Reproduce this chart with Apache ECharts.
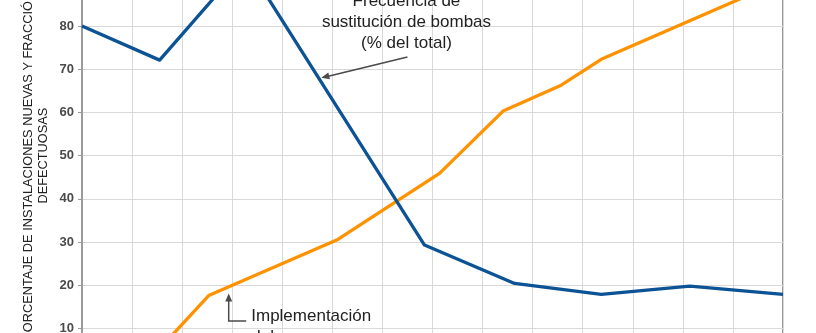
<!DOCTYPE html>
<html>
<head>
<meta charset="utf-8">
<script src="https://cdn.jsdelivr.net/npm/echarts@6/dist/echarts.min.js"></script>
<style>
  html, body { margin: 0; padding: 0; background: #ffffff; }
  #chart { width: 816px; height: 333px; }
</style>
</head>
<body>
<div id="chart"></div>
<script>
// Horizontal position of each observation (one unit = one grid column)
const blueX = [0, 1.55, 3.26, 6.84, 8.64, 10.37, 12.14, 14];
// Pump replacement frequency (% of total)
const blueValues = [80, 72.1, 94.8, 29.3, 20.4, 17.9, 19.8, 17.9];

const orangeX = [1.55, 2.53, 5.11, 7.14, 8.41, 9.57, 10.37, 14];
// Share of new installations under the programme
const orangeValues = [5.3, 17.6, 30.6, 45.9, 60.3, 66.3, 72.3, 90.6];

const yTicks = [0, 10, 20, 30, 40, 50, 60, 70, 80, 90, 100];

const yAxisName = 'PORCENTAJE DE INSTALACIONES NUEVAS Y FRACCIÓN DE\nDEFECTUOSAS';
const noteReplacement = 'Frecuencia de\nsustitución de bombas\n(% del total)';
const noteProgramme = 'Implementación\ndel programa';

const FONT = 'Arial, "Liberation Sans", Helvetica, sans-serif';
const TEXT = '#222222';
const ARROW = '#4a4a4a';

const pairs = (xs, ys) => xs.map((x, i) => [x, ys[i]]);

const chart = echarts.init(document.getElementById('chart'), null, { renderer: 'canvas' });

const option = {
  animation: false,
  backgroundColor: '#ffffff',
  grid: {
    left: 82, right: 33, top: -60.4, bottom: -38.6,
    outerBoundsMode: 'none', containLabel: false,
    show: true, borderColor: '#9a9a9a', borderWidth: 2, backgroundColor: 'transparent'
  },
  xAxis: {
    type: 'value', min: 0, max: 14, interval: 1,
    axisLine: { show: false }, axisTick: { show: false }, axisLabel: { show: false },
    splitLine: { show: true, lineStyle: { color: '#d9d9d9', width: 1 } }
  },
  yAxis: {
    type: 'value', min: yTicks[0], max: yTicks[yTicks.length - 1], interval: 10,
    name: yAxisName,
    nameLocation: 'middle', nameRotate: 90, nameGap: 31, nameMoveOverlap: false,
    nameTextStyle: { fontFamily: FONT, fontSize: 12.8, color: TEXT, lineHeight: 15, align: 'center' },
    axisLine: { show: true, lineStyle: { color: '#9a9a9a', width: 2 } },
    axisTick: { show: true, length: 4, lineStyle: { color: '#9a9a9a', width: 1 } },
    axisLabel: { margin: 8, fontFamily: FONT, fontSize: 13, fontWeight: 'bold', color: '#4a4a4a' },
    splitLine: { show: true, lineStyle: { color: '#d9d9d9', width: 1 } }
  },
  series: [
    {
      name: 'Frecuencia de sustitución de bombas',
      type: 'line', data: pairs(blueX, blueValues),
      showSymbol: false, symbol: 'none', clip: false,
      lineStyle: { color: '#0b5394', width: 3.3, join: 'round' }, z: 3
    },
    {
      name: 'Implementación del programa',
      type: 'line', data: pairs(orangeX, orangeValues),
      showSymbol: false, symbol: 'none', clip: false,
      lineStyle: { color: '#ff9200', width: 3.3, join: 'round' }, z: 2
    }
  ]
};

chart.setOption(option);

// Annotation anchors, given in axis units and converted to pixels
const px = (p) => chart.convertToPixel({ gridIndex: 0 }, p);

function arrowHead(tip, from, len, half) {
  const dx = tip[0] - from[0], dy = tip[1] - from[1];
  const d = Math.hypot(dx, dy) || 1;
  const ux = dx / d, uy = dy / d;
  const bx = tip[0] - ux * len, by = tip[1] - uy * len;
  return [tip, [bx - uy * half, by + ux * half], [bx + uy * half, by - ux * half]];
}

function shaftEnd(tip, from, back) {
  const dx = tip[0] - from[0], dy = tip[1] - from[1];
  const d = Math.hypot(dx, dy) || 1;
  return [tip[0] - dx / d * back, tip[1] - dy / d * back];
}

const a1Tail = px([6.5, 72.8]);
const a1Tip = px([4.78, 68.0]);
const a2Tip = px([2.93, 18.1]);
const a2Corner = px([2.93, 11.7]);
const a2End = px([3.28, 11.7]);
const note1 = px([6.48, 80.9]);
const note2 = px([3.38, 10.44]);

chart.setOption({
  graphic: [
    {
      type: 'text', x: note1[0], y: note1[1], z: 10,
      style: {
        text: noteReplacement, fill: TEXT, font: '17px ' + FONT,
        textAlign: 'center', textVerticalAlign: 'middle', lineHeight: 21
      }
    },
    {
      type: 'text', x: note2[0], y: note2[1], z: 10,
      style: {
        text: noteProgramme, fill: TEXT, font: '17px ' + FONT,
        textAlign: 'left', textVerticalAlign: 'middle', lineHeight: 21
      }
    },
    {
      type: 'polyline', z: 10,
      shape: { points: [a1Tail, shaftEnd(a1Tip, a1Tail, 5)] },
      style: { stroke: ARROW, lineWidth: 1.5, fill: null }
    },
    {
      type: 'polygon', z: 10,
      shape: { points: arrowHead(a1Tip, a1Tail, 8, 3.5) },
      style: { fill: ARROW }
    },
    {
      type: 'polyline', z: 10,
      shape: { points: [a2End, a2Corner, shaftEnd(a2Tip, a2Corner, 5)] },
      style: { stroke: ARROW, lineWidth: 1.5, fill: null }
    },
    {
      type: 'polygon', z: 10,
      shape: { points: arrowHead(a2Tip, a2Corner, 8, 3.5) },
      style: { fill: ARROW }
    }
  ]
});
</script>
</body>
</html>
